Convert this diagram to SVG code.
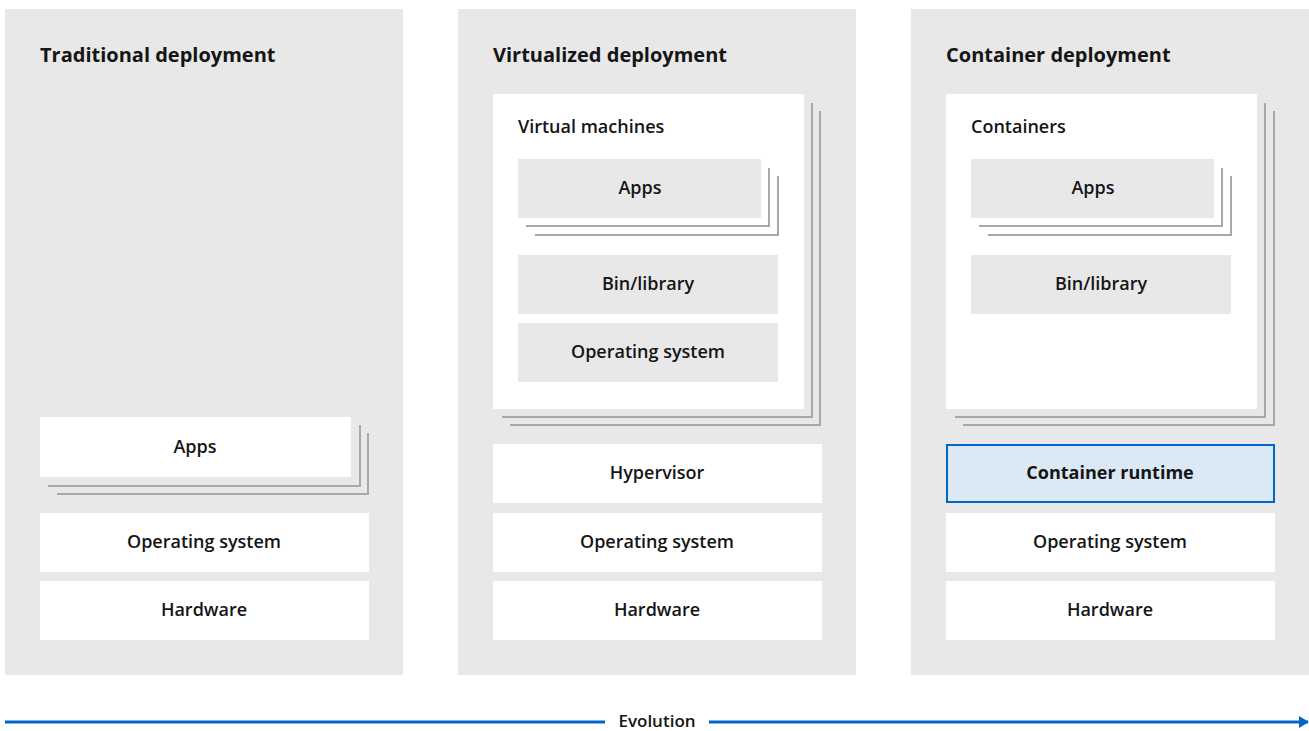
<svg xmlns="http://www.w3.org/2000/svg" width="1309" height="731" viewBox="0 0 1309 731">
<style>
.panel{fill:#e8e8e8}
.w{fill:#ffffff}
.g{fill:#e8e8e8}
.sh{fill:none;stroke:#a8a8a8;stroke-width:2}
.title{font-family:"Open Sans",sans-serif;font-weight:700;font-size:20px;fill:#151515}
.lbl{font-family:"Open Sans",sans-serif;font-weight:600;font-size:18px;fill:#151515;text-anchor:middle}
.sub{font-family:"Open Sans",sans-serif;font-weight:600;font-size:18px;fill:#151515}
.rt{fill:#dbe8f6;stroke:#0066cc;stroke-width:2}
</style>
<defs>
<marker id="ah" markerWidth="10" markerHeight="12" refX="9" refY="6" orient="auto" markerUnits="userSpaceOnUse">
<path d="M0,0 L10,6 L0,12 Z" fill="#0066cc"/>
</marker>
</defs>
<rect width="1309" height="731" fill="#ffffff"/>
<g id="panel-traditional">
<rect class="panel" x="5" y="9" width="398" height="666"/>
<text class="title" x="40" y="62">Traditional deployment</text>
<g id="t-apps">
<polyline class="sh" points="57,494 368,494 368,433"/>
<polyline class="sh" points="48,486 360,486 360,425"/>
<rect class="w" x="40" y="417" width="311" height="60"/>
<text class="lbl" x="195" y="453">Apps</text>
</g>
<g id="t-os"><rect class="w" x="40" y="513" width="329" height="59"/><text class="lbl" x="204" y="548">Operating system</text></g>
<g id="t-hw"><rect class="w" x="40" y="581" width="329" height="59"/><text class="lbl" x="204" y="616">Hardware</text></g>
</g>
<g id="panel-virtualized">
<rect class="panel" x="458" y="9" width="398" height="666"/>
<text class="title" x="493" y="62">Virtualized deployment</text>
<g id="v-vms">
<polyline class="sh" points="510,425 820,425 820,111"/>
<polyline class="sh" points="502,417 812,417 812,103"/>
<rect class="w" x="493" y="94" width="311" height="315"/>
<text class="sub" x="518" y="133">Virtual machines</text>
<g id="v-apps">
<polyline class="sh" points="535,235 778,235 778,176"/>
<polyline class="sh" points="526,226 769,226 769,168"/>
<rect class="g" x="518" y="159" width="243" height="59"/>
<text class="lbl" x="640" y="194">Apps</text>
</g>
<g id="v-bin"><rect class="g" x="518" y="255" width="260" height="59"/><text class="lbl" x="648" y="290">Bin/library</text></g>
<g id="v-guestos"><rect class="g" x="518" y="323" width="260" height="59"/><text class="lbl" x="648" y="358">Operating system</text></g>
</g>
<g id="v-hyp"><rect class="w" x="493" y="444" width="329" height="59"/><text class="lbl" x="657" y="479">Hypervisor</text></g>
<g id="v-os"><rect class="w" x="493" y="513" width="329" height="59"/><text class="lbl" x="657" y="548">Operating system</text></g>
<g id="v-hw"><rect class="w" x="493" y="581" width="329" height="59"/><text class="lbl" x="657" y="616">Hardware</text></g>
</g>
<g id="panel-container">
<rect class="panel" x="911" y="9" width="398" height="666"/>
<text class="title" x="946" y="62">Container deployment</text>
<g id="c-containers">
<polyline class="sh" points="963,425 1274,425 1274,111"/>
<polyline class="sh" points="955,417 1265,417 1265,103"/>
<rect class="w" x="946" y="94" width="311" height="315"/>
<text class="sub" x="971" y="133">Containers</text>
<g id="c-apps">
<polyline class="sh" points="988,235 1231,235 1231,176"/>
<polyline class="sh" points="979,226 1222,226 1222,168"/>
<rect class="g" x="971" y="159" width="243" height="59"/>
<text class="lbl" x="1093" y="194">Apps</text>
</g>
<g id="c-bin"><rect class="g" x="971" y="255" width="260" height="59"/><text class="lbl" x="1101" y="290">Bin/library</text></g>
</g>
<g id="c-runtime"><rect class="rt" x="947" y="445" width="327" height="57"/><text class="lbl" x="1110" y="479" style="font-weight:700">Container runtime</text></g>
<g id="c-os"><rect class="w" x="946" y="513" width="329" height="59"/><text class="lbl" x="1110" y="548">Operating system</text></g>
<g id="c-hw"><rect class="w" x="946" y="581" width="329" height="59"/><text class="lbl" x="1110" y="616">Hardware</text></g>
</g>
<g id="connectors">
<line x1="5" y1="722" x2="605" y2="722" stroke="#0066cc" stroke-width="3"/>
<line x1="709" y1="722" x2="1308" y2="722" stroke="#0066cc" stroke-width="3" marker-end="url(#ah)"/>
<text class="lbl" x="657" y="727" style="font-size:17px">Evolution</text>
</g>
</svg>
